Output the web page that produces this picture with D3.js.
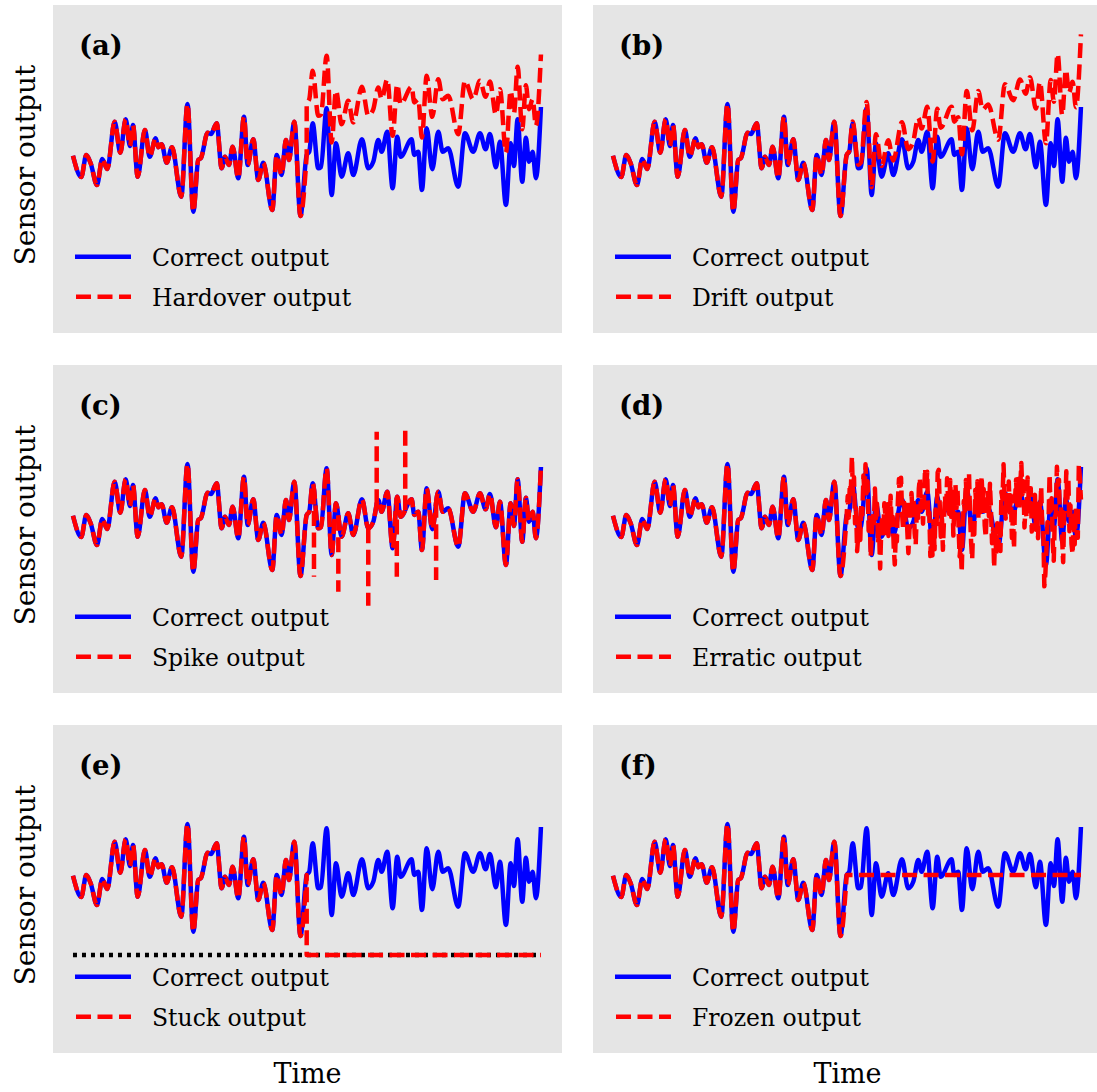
<!DOCTYPE html>
<html>
<head>
<meta charset="utf-8">
<script src="https://cdn.jsdelivr.net/npm/d3@7"></script>
<style>
  body { margin: 0; background: #ffffff; }
  svg { display: block; }
  text { font-family: "DejaVu Serif", "Liberation Serif", serif; fill: #000; }
</style>
</head>
<body>
<script>
// Correct sensor output: turning points of the signal (time, value)
const times = [
  0, 1.77, 2.84, 3.78, 5.13, 6.26, 7.33, 8.91, 10.11, 11.26,
  12.18, 12.82, 13.82, 15.38, 16.39, 17.67, 18.23, 18.95, 20.02, 21.15,
  23.14, 24.47, 25.71, 26.77, 27.35, 28.78, 29.49, 30.71, 31.77, 32.48,
  33.33, 34.12, 35.32, 36.54, 37.33, 38.53, 39.59, 40.66, 42.59, 43.53,
  44.59, 45.51, 46.15, 47.29, 48.61, 49.94, 50.49, 51.22, 52.41, 52.99,
  54.21, 55.28, 56.2, 57.41, 58.82, 59.89, 61.75, 63.1, 64.17, 65.24,
  65.96, 67.16, 68.31, 69.29, 70.02, 72.37, 72.93, 73.78, 74.57, 75.58,
  76.77, 78.06, 79.0, 80.19, 82.33, 83.76, 85.53, 86.97, 88.18, 89.1,
  90.38, 91.24, 92.52, 93.53, 94.23, 95.02, 96.0, 96.79, 97.44, 98.23,
  98.93, 100
];
const correct = [
  -0.03, -0.88, 0, -0.33, -1.2, -0.16, -0.56, 1.33, 0.09, 1.43,
  0.36, 1.2, -0.87, 1.0, -0.07, 0.67, 0.31, 0.43, -0.31, 0.31,
  -1.67, 2.04, -2.27, -0.2, -0.12, 0.89, 0.84, 1.27, -0.53, -0.07,
  -0.4, 0.33, -0.93, 1.53, -0.4, 0.63, -1.0, -0.31, -2.2, 0,
  -0.8, 0.6, -0.2, 1.33, -2.44, 0, 0.13, 1.27, -0.53, -0.48,
  1.87, -1.6, 0.47, -0.87, 0.07, -0.8, 0.63, -0.53, -0.27, 0.6,
  0.13, 0.93, -1.33, 0.73, -0.07, 0.63, 0, 0.13, -1.4, 1.07,
  -0.57, 0.93, 0.13, 0.27, -1.27, 0.87, 0.13, 0.87, 0.23, 0.84,
  -0.49, 0.53, -2.0, 0.47, -0.44, 1.43, -1.07, 0.69, -0.27, 0.13,
  -0.93, 1.92
];

// Fault settings
const faultStart = 49.94;      // time at which every fault begins
const hardoverOffset = 2.1;    // constant bias of the hardover fault
const driftRate = 0.058;       // bias growth per time unit of the drift fault
const stuckLevel = -3.2;       // level the stuck sensor falls to
const spikeTimes  = [51.5, 56.7, 63.1, 64.9, 69.2, 71.0, 77.6];
const spikeValues = [-2.47, -3.07, -3.63, 3.33, -2.47, 3.6, -2.6];
// Erratic fault: deviation from the correct output on an even time grid after faultStart
const erraticNoise = [
  0.0, 0.7, -0.2, 1.0, 0.3, 1.2, -0.4, 0.5, -0.9, 0.2, -1.1, -0.3, 0.6, -0.5, 0.9,
  0.1, 1.1, -0.2, 0.4, -1.0, -0.2, -1.3, 0.3, -0.4, 0.8, 1.3, 0.2, 0.9, -0.6, 0.1,
  -1.2, -0.3, -1.5, 0.2, 0.8, -0.1, 1.0, 0.3, -0.7, 0.4, -0.9, -0.1, 1.1, 0.2, 0.7,
  -0.5, -1.3, -0.2, -0.8, 0.6, 1.2, 0.1, 0.9, -0.6, -1.1, 0.2, -0.3, 0.8, -0.2, -1.0,
  -0.1, 0.7, 1.3, 0.4, 0.9, -0.7, -1.4, -0.4, -0.9, 0.5, 1.1, 0.0, 0.6, -0.6, 0.3,
  1.2, 0.2, 0.8, -0.9, -0.1, -1.2, 0.4, -0.3, 0.9, -0.8, 0.1, -1.0, 1.0, 1.4, 0.3,
  -0.8, 0.1, -1.4, -0.3, 0.6, -0.2, 1.1, 0.2, -0.5, 0.8, -0.7, 0.4, -1.0, 0.5, 1.2,
  0.2, 0.9, -0.6, -1.3, -0.2, -0.9, 0.7, 1.1, -0.1, 0.5, -0.8, 0.3, 1.2, 0.0, -0.7,
  -1.2, 0.1, -0.6, 0.8, -0.2, 0.5, -1.1, 0.2, -0.4, 1.3, 0.4, 0.9, -0.6, -1.1, 0.0,
  0.7, -0.3, 1.1, 0.2, -0.9, -0.1, -1.4, 0.3, -0.5, 0.9, 0.0, 0.6, -0.7, 1.2, 0.4,
  1.4, -0.2, -1.0, 0.1, -0.6, 0.8, -0.3, 0.5, -1.1, -0.2, -1.5, 0.4, 1.0, -0.2, 0.7,
  -0.6, 0.3, 1.3, 0.2, 0.9, -0.8, 0.1, -0.4, 1.0, 0.0, -0.7, 0.3, -1.2, -0.3, 0.8,
  1.2, -0.1, 0.6, -1.0, 0.2, -0.5, 0.9, -0.2, 0.4, -1.3, -0.4, 0.5, 1.1, 0.3, 1.5,
  -0.3, 0.4, -0.9, -1.4, 0.1, -0.5, 0.7, -0.2, 0.5, -0.6, 1.0, 0.1, -1.1, 0.2, -0.4,
  1.1, 0.3, 1.6, -0.4, 0.5, -1.2, -1.7, 0.2, -0.6, 1.2, 0.1, -0.5, 1.8, 0.4, -1.3
];

// Panel labels and legend entries
const panelLabels = ["(a)", "(b)", "(c)", "(d)", "(e)", "(f)"];
const faultKinds  = ["hardover", "drift", "spike", "erratic", "stuck", "frozen"];
const faultNames  = ["Hardover output", "Drift output", "Spike output",
                     "Erratic output", "Stuck output", "Frozen output"];
const correctName = "Correct output";
const yTitle = "Sensor output";
const xTitle = "Time";

// Layout
const W = 1097, H = 1092;
const panelW = 509, panelH = 328;
const colX = [53, 593], rowY = [5, 365, 725];
const BLUE = "#0000ff", RED = "#ff0000", BG = "#e5e5e5";
const LW = 4.5, DASH = "15,6.5";

const svg = d3.select("body").append("svg").attr("width", W).attr("height", H);

const x = d3.scaleLinear().domain([-4.27, 104.5]).range([0, panelW]);
const y = d3.scaleLinear().domain([-7.12, 6.0]).range([panelH, 0]);

const line = d3.line().x(d => x(d[0])).y(d => y(d[1])).curve(d3.curveMonotoneX);
const straight = d3.line().x(d => x(d[0])).y(d => y(d[1]));

const pts = times.map((t, i) => [t, correct[i]]);
const k = times.indexOf(faultStart);
const before = pts.slice(0, k + 1);
const after = pts.slice(k);

// vertical position of a drawn curve at horizontal pixel px
function yOnPath(node, px) {
  let lo = 0, hi = node.getTotalLength();
  for (let i = 0; i < 40; i++) {
    const mid = (lo + hi) / 2;
    if (node.getPointAtLength(mid).x < px) lo = mid; else hi = mid;
  }
  return node.getPointAtLength((lo + hi) / 2).y;
}
const joinPaths = (a, b) => a + b.replace(/^M/, "L");

faultKinds.forEach((kind, i) => {
  const col = i % 2, row = Math.floor(i / 2);
  const g = svg.append("g").attr("transform", `translate(${colX[col]},${rowY[row]})`);
  g.append("rect").attr("width", panelW).attr("height", panelH).attr("fill", BG);

  if (kind === "stuck") {
    g.append("path")
      .attr("d", straight([[0, stuckLevel], [100, stuckLevel]]))
      .attr("fill", "none").attr("stroke", "#000")
      .attr("stroke-width", LW).attr("stroke-dasharray", "4,5");
  }

  const blue = g.append("path").attr("d", line(pts))
    .attr("fill", "none").attr("stroke", BLUE).attr("stroke-width", LW)
    .attr("stroke-linejoin", "round");
  const blueNode = blue.node();

  let redD;
  const head = line(before);
  if (kind === "hardover") {
    redD = joinPaths(head, line(after.map(([t, v]) => [t, v + hardoverOffset])));
  } else if (kind === "drift") {
    redD = line(pts.map(([t, v]) => [t, t > faultStart ? v + driftRate * (t - faultStart) : v]));
  } else if (kind === "spike") {
    redD = line(pts);
  } else if (kind === "erratic") {
    const n = erraticNoise.length;
    const tail = erraticNoise.map((d, j) => {
      const t = faultStart + j * (100 - faultStart) / (n - 1);
      const base = y.invert(yOnPath(blueNode, x(t)));
      return [t, base + d];
    });
    redD = joinPaths(head, straight(tail));
  } else if (kind === "stuck") {
    redD = joinPaths(head, straight([[faultStart, stuckLevel], [100, stuckLevel]]));
  } else if (kind === "frozen") {
    const held = correct[k];
    redD = joinPaths(head, straight([[faultStart, held], [100, held]]));
  }
  g.append("path").attr("d", redD)
    .attr("fill", "none").attr("stroke", RED).attr("stroke-width", LW)
    .attr("stroke-dasharray", DASH).attr("stroke-linejoin", "round");

  if (kind === "spike") {
    spikeTimes.forEach((t, j) => {
      const px = x(t);
      g.append("line")
        .attr("x1", px).attr("x2", px)
        .attr("y1", yOnPath(blueNode, px)).attr("y2", y(spikeValues[j]))
        .attr("stroke", RED).attr("stroke-width", LW).attr("stroke-dasharray", DASH);
    });
  }

  // panel label
  g.append("text").attr("x", 26).attr("y", 50)
    .attr("font-size", 27.5).attr("font-weight", "bold").text(panelLabels[i]);

  // legend
  const leg = g.append("g");
  leg.append("line").attr("x1", 22).attr("x2", 78).attr("y1", 251.7).attr("y2", 251.7)
    .attr("stroke", BLUE).attr("stroke-width", LW);
  leg.append("line").attr("x1", 23).attr("x2", 78).attr("y1", 291.7).attr("y2", 291.7)
    .attr("stroke", RED).attr("stroke-width", LW).attr("stroke-dasharray", DASH);
  leg.append("text").attr("x", 99).attr("y", 261.2).attr("font-size", 23.5).text(correctName);
  leg.append("text").attr("x", 99).attr("y", 301.2).attr("font-size", 23.5).text(faultNames[i]);
});

// axis titles
rowY.forEach(ry => {
  svg.append("text")
    .attr("transform", `translate(35,${ry + 160}) rotate(-90)`)
    .attr("text-anchor", "middle").attr("font-size", 28).text(yTitle);
});
colX.forEach(cx => {
  svg.append("text")
    .attr("x", cx + panelW / 2).attr("y", 1083)
    .attr("text-anchor", "middle").attr("font-size", 27).text(xTitle);
});
</script>
</body>
</html>
